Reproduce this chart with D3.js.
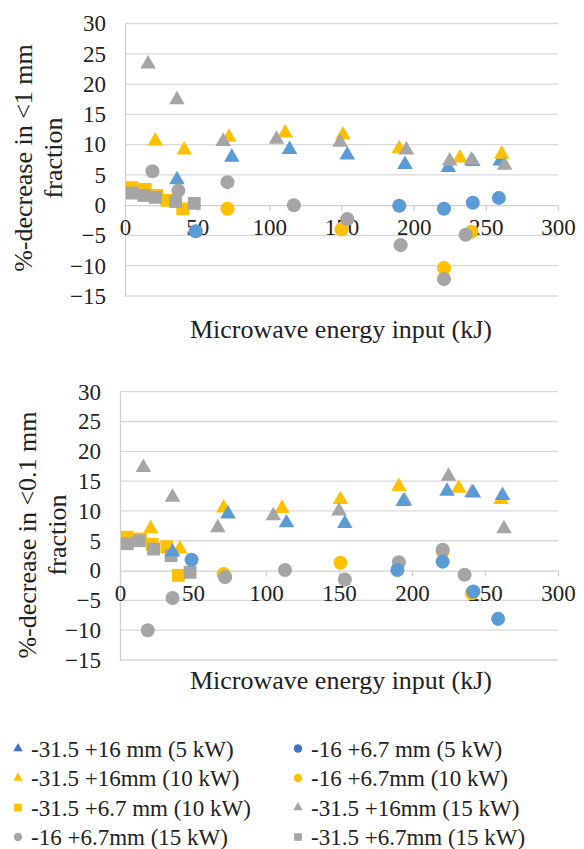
<!DOCTYPE html>
<html>
<head>
<meta charset="utf-8">
<script src="https://cdn.jsdelivr.net/npm/d3@7"></script>
<style>
  body { margin: 0; background: #fff; }
  svg text { font-family: "Liberation Serif", Tinos, "Times New Roman", Times, "DejaVu Serif", serif !important; fill: #222; }
</style>
</head>
<body>
<svg id="chart" width="584" height="849"></svg>
<script>
// x ticks / y ticks shared by both panels
var xTicks = [0, 50, 100, 150, 200, 250, 300];
var yTicks = [-15, -10, -5, 0, 5, 10, 15, 20, 25, 30];

// top panel: %-decrease in <1 mm fraction
var top_tri5   = [[36,4.2],[74,7.9],[114,9.2],[154,8.3],[194,6.7],[224,6.2],[241,7.2],[260,7.3]];
var top_circ5  = [[49,-4.3],[190,-0.1],[221,-0.6],[241,0.4],[259,1.2]];
var top_tri10  = [[21,10.6],[41,9.1],[72,11.2],[111,11.9],[151,11.6],[190,9.3],[232,7.8],[261,8.4]];
var top_circ10 = [[71,-0.6],[150,-4.0],[221,-10.4],[240,-4.4]];
var top_sq10   = [[5,2.9],[14,2.6],[22,1.6],[29,0.8],[40,-0.6]];
var top_tri15  = [[16,23.3],[36,17.4],[68,10.5],[105,10.9],[149,10.4],[195,9.1],[225,7.3],[240,7.4],[263,6.6]];
var top_circ15 = [[19,5.6],[37,2.4],[71,3.8],[117,0],[154,-2.3],[191,-6.6],[221,-12.2],[236,-4.9]];
var top_sq15   = [[5,2.0],[13,1.6],[21,1.3],[35,0.6],[48,0.3]];

// bottom panel: %-decrease in <0.1 mm fraction
var bot_tri5   = [[36,3.1],[74,9.5],[114,8.0],[154,7.9],[194,11.6],[224,13.3],[242,13.0],[262,12.6]];
var bot_circ5  = [[49,1.8],[190,0.1],[221,1.5],[242,-3.5],[259,-8.1]];
var bot_tri10  = [[21,7.0],[41,3.6],[71,10.5],[111,10.4],[151,11.9],[191,14.1],[232,13.8],[261,11.9]];
var bot_circ10 = [[71,-0.6],[151,1.3],[221,3.2],[241,-3.8]];
var bot_sq10   = [[5,5.6],[14,5.3],[22,4.4],[32,4.0],[40,-0.8]];
var bot_tri15  = [[16,17.3],[36,12.3],[67,7.2],[105,9.2],[150,10.0],[195,11.7],[225,15.8],[241,13.1],[263,7.0]];
var bot_circ15 = [[19,-10.0],[36,-4.6],[72,-1.1],[113,0.1],[154,-1.5],[191,1.4],[221,3.5],[236,-0.7]];
var bot_sq15   = [[5,4.5],[13,5.0],[23,3.6],[35,2.5],[48,-0.3]];

var seriesNames = ["-31.5 +16 mm (5 kW)", "-16 +6.7 mm (5 kW)", "-31.5 +16mm (10 kW)", "-16 +6.7mm (10 kW)",
                   "-31.5 +6.7 mm (10 kW)", "-31.5 +16mm (15 kW)", "-16 +6.7mm (15 kW)", "-31.5 +6.7mm (15 kW)"];

var BLUE = "#5B9BD5", ORANGE = "#FFC000", GRAY = "#A5A5A5";
var styles = [
  {color: BLUE, legend: "#4472C4", shape: d3.symbolTriangle},
  {color: BLUE, legend: "#4472C4", shape: d3.symbolCircle},
  {color: ORANGE, legend: ORANGE, shape: d3.symbolTriangle},
  {color: ORANGE, legend: ORANGE, shape: d3.symbolCircle},
  {color: ORANGE, legend: ORANGE, shape: d3.symbolSquare},
  {color: GRAY, legend: GRAY, shape: d3.symbolTriangle},
  {color: GRAY, legend: GRAY, shape: d3.symbolCircle},
  {color: GRAY, legend: GRAY, shape: d3.symbolSquare}
];
function symSize(shape, k) {
  if (shape === d3.symbolTriangle) return 105 * k;
  if (shape === d3.symbolCircle) return 155 * k;
  return 165 * k;
}

var svg = d3.select("#chart");

function panel(opt) {
  var x = d3.scaleLinear().domain([0, 300]).range([opt.left, 558]);
  var y = d3.scaleLinear().domain([-15, 30]).range([opt.bottom, opt.top]);
  var g = svg.append("g");

  // gridlines
  g.selectAll("line.grid").data(yTicks.filter(function(d) { return d !== 0; }))
    .enter().append("line")
    .attr("x1", opt.left).attr("x2", 558)
    .attr("y1", function(d) { return y(d); }).attr("y2", function(d) { return y(d); })
    .attr("stroke", "#D9D9D9").attr("stroke-width", 1.3);

  // y axis (vertical line at x=0)
  var yAxis = d3.axisLeft(y).tickValues(yTicks).tickSize(0).tickPadding(19);
  var ya = g.append("g").attr("transform", "translate(" + opt.left + ",0)").call(yAxis)
    .attr("font-family", null);
  ya.select(".domain").attr("stroke", "#D0D0D0").attr("stroke-width", 1.3);
  ya.selectAll("text").style("font-size", "23px").attr("fill", "#222");

  // x axis along y=0
  var xAxis = d3.axisBottom(x).tickValues(xTicks).tickSize(6).tickPadding(8).tickSizeOuter(0);
  var xa = g.append("g").attr("transform", "translate(0," + y(0) + ")").call(xAxis)
    .attr("font-family", null);
  xa.select(".domain").attr("stroke", "#D0D0D0").attr("stroke-width", 1.3);
  xa.selectAll(".tick line").attr("stroke", "#D0D0D0").attr("stroke-width", 1.3);
  xa.selectAll("text").style("font-size", "23px").attr("fill", "#222");

  // titles
  g.append("text").attr("x", 341).attr("y", opt.xTitleY).attr("text-anchor", "middle")
    .style("font-size", "26px").text("Microwave energy input (kJ)");
  var yt = g.append("text").attr("transform", "translate(" + opt.yTitleX + "," + opt.yTitleY + ") rotate(-90)")
    .attr("text-anchor", "middle").style("font-size", "26px");
  yt.append("tspan").attr("x", 0).attr("dy", 0).text(opt.yTitle);
  yt.append("tspan").attr("x", 0).attr("dy", 30).text("fraction");

  // markers
  opt.order.forEach(function(i) {
    var st = styles[i];
    g.append("g").selectAll("path").data(opt.data[i]).enter().append("path")
      .attr("d", d3.symbol().type(st.shape).size(symSize(st.shape, 1)))
      .attr("transform", function(d) { return "translate(" + x(d[0]) + "," + y(d[1]) + ")"; })
      .attr("fill", st.color);
  });
}

panel({
  left: 125, top: 23.5, bottom: 296, xTitleY: 338, yTitleX: 32, yTitleY: 158,
  yTitle: "%-decrease in <1 mm",
  data: [top_tri5, top_circ5, top_tri10, top_circ10, top_sq10, top_tri15, top_circ15, top_sq15],
  order: [0, 1, 2, 3, 4, 5, 6, 7]
});

panel({
  left: 120, top: 391.7, bottom: 660, xTitleY: 689, yTitleX: 36, yTitleY: 535,
  yTitle: "%-decrease in <0.1 mm",
  data: [bot_tri5, bot_circ5, bot_tri10, bot_circ10, bot_sq10, bot_tri15, bot_circ15, bot_sq15],
  order: [2, 3, 4, 5, 6, 7, 0, 1]
});

// legend, two columns, row-wise
var leg = svg.append("g");
seriesNames.forEach(function(name, i) {
  var col = i % 2, row = Math.floor(i / 2);
  var lx = col === 0 ? 18 : 298;
  var ly = 748.5 + row * 29.5;
  var st = styles[i];
  leg.append("path")
    .attr("d", d3.symbol().type(st.shape).size(symSize(st.shape, 0.36)))
    .attr("transform", "translate(" + lx + "," + ly + ")")
    .attr("fill", st.legend);
  leg.append("text").attr("x", lx + 13).attr("y", ly + 8)
    .style("font-size", "23px").text(name);
});
</script>
</body>
</html>
